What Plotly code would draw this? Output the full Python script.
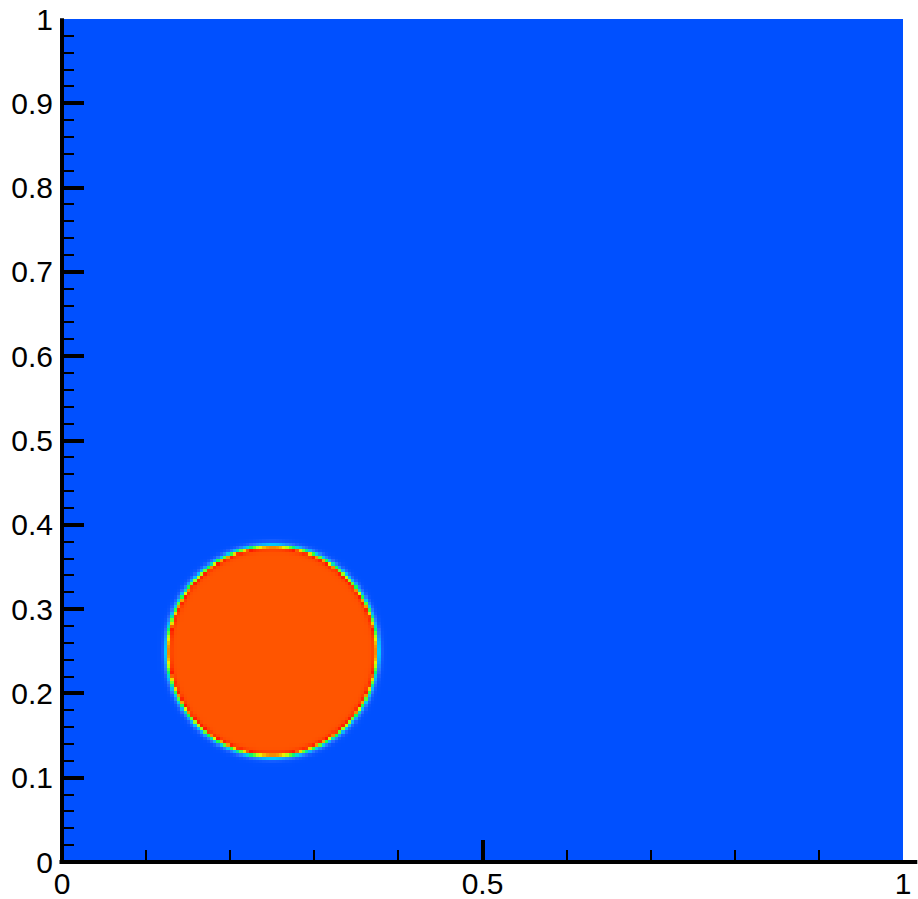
import numpy as np
import plotly.graph_objects as go

# Volume-fraction field of a circular droplet on the unit square
n_cells = 256
drop_center = [0.25, 0.25]
drop_radius = 0.125
interface_cells = 0.9  # half-thickness of the diffuse interface, in cells

x_major = [0, 0.5, 1]
x_major_labels = ["0", "0.5", "1"]
x_minor = [0.1, 0.2, 0.3, 0.4, 0.6, 0.7, 0.8, 0.9]

y_major = [0, 0.1, 0.2, 0.3, 0.4, 0.5, 0.6, 0.7, 0.8, 0.9, 1]
y_major_labels = ["0", "0.1", "0.2", "0.3", "0.4", "0.5", "0.6", "0.7", "0.8", "0.9", "1"]
y_minor = [round(v * 0.02, 2) for v in range(51) if v % 5 != 0]

h = 1.0 / n_cells
centers = (np.arange(n_cells) + 0.5) * h
X, Y = np.meshgrid(centers, centers)
r = np.hypot(X - drop_center[0], Y - drop_center[1])
phi = 0.5 * (1.0 - np.tanh((r - drop_radius) / (interface_cells * h)))

colorscale = [
    [0.0, "#0050FF"],
    [0.08, "#2E6CFF"],
    [0.25, "#00C8FF"],
    [0.45, "#10FF50"],
    [0.65, "#E8FF00"],
    [0.85, "#FF1800"],
    [1.0, "#FF5500"],
]

fig = go.Figure(
    go.Heatmap(
        x=centers,
        y=centers,
        z=phi,
        zmin=0,
        zmax=1,
        colorscale=colorscale,
        showscale=False,
        zsmooth=False,
        hoverinfo="skip",
    )
)

tick_font = dict(family="Liberation Sans, Arial, sans-serif", size=30, color="black")

fig.update_layout(
    width=918,
    height=899,
    margin=dict(l=62, r=15, t=19, b=37, autoexpand=False),
    paper_bgcolor="white",
    plot_bgcolor="white",
    showlegend=False,
    xaxis=dict(
        range=[0, 1],
        tickmode="array",
        tickvals=x_major,
        ticktext=x_major_labels,
        ticks="inside",
        ticklen=22,
        tickwidth=4,
        tickcolor="black",
        minor=dict(tickmode="array", tickvals=x_minor, ticks="inside",
                   ticklen=12, tickwidth=1.5, tickcolor="black", showgrid=False),
        showgrid=False,
        zeroline=False,
        showline=False,
        automargin=False,
        tickfont=tick_font,
        ticklabelstandoff=1,
    ),
    yaxis=dict(
        range=[0, 1],
        tickmode="array",
        tickvals=y_major,
        ticktext=y_major_labels,
        ticks="inside",
        ticklen=22,
        tickwidth=4,
        tickcolor="black",
        minor=dict(tickmode="array", tickvals=y_minor, ticks="inside",
                   ticklen=12, tickwidth=1.5, tickcolor="black", showgrid=False),
        showgrid=False,
        zeroline=False,
        showline=False,
        automargin=False,
        tickfont=tick_font,
        ticklabelstandoff=8,
    ),
    shapes=[
        dict(type="line", xref="paper", yref="paper", x0=0, x1=0, y0=-0.002, y1=1.001,
             line=dict(color="black", width=4), layer="above"),
        dict(type="line", xref="paper", yref="paper", x0=-0.003, x1=1.017, y0=0, y1=0,
             line=dict(color="black", width=4), layer="above"),
    ],
)

fig.write_html("out.html")
